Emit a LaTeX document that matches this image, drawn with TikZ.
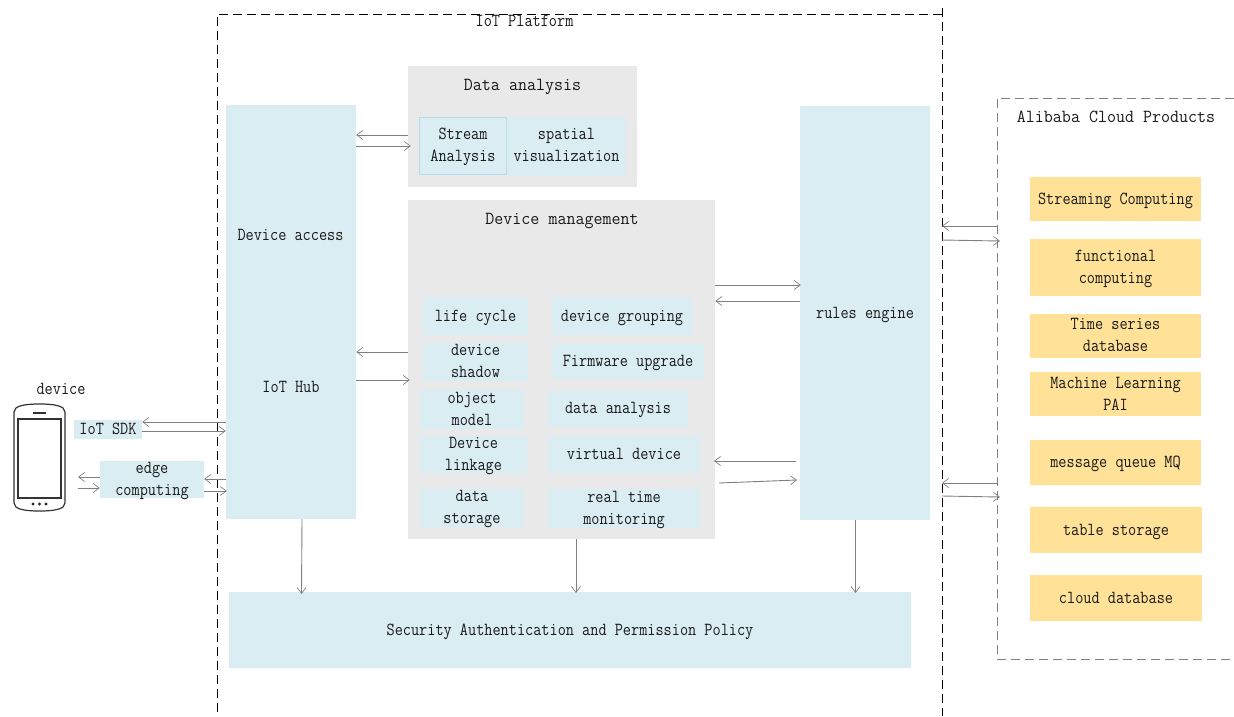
\documentclass[tikz,border=0pt]{standalone}
\usepackage{fontspec}
\setmonofont{Latin Modern Mono}[FakeStretch=0.86]
\newfontface\titlefont{Latin Modern Mono}[FakeStretch=0.95]
\usetikzlibrary{arrows.meta,calc}
\definecolor{lblue}{HTML}{DAEDF3}
\definecolor{lgray}{HTML}{E9E9E9}
\definecolor{lyellow}{HTML}{FFE197}
\definecolor{linegray}{HTML}{808080}
\definecolor{streamline}{HTML}{B4DCEB}
\tikzset{
  arr/.style={draw=linegray,line width=0.9pt,-{Straight Barb[length=6pt,width=9pt,line width=0.7pt]}},
  lbl/.style={font=\fontsize{18.4}{22}\selectfont\ttfamily,align=center,text=black!90,inner sep=0pt},
  ttl/.style={font=\fontsize{18.4}{22}\selectfont\titlefont,align=center,text=black!90,inner sep=0pt},
  plat/.style={draw=black,line width=0.9pt,dash pattern=on 9pt off 5pt},
  cloudline/.style={draw=black!50,line width=0.7pt,dash pattern=on 9pt off 5pt},
  phone/.style={draw=black!80,line width=1.2pt}
}
% name, x0, y0, x1, y1, fill, downward text offset, text
\newcommand{\bx}[8]{\node[inner sep=0pt,fill=#6,minimum width=#4pt-#2pt,minimum height=#5pt-#3pt] (#1) at ({(#2+#4)/2},{(#3+#5)/2}) {};
 \node[lbl] (#1-t) at ([yshift=-#7pt]#1.center) {#8};}
\begin{document}
\begin{tikzpicture}[x=1pt,y=-1pt]
\useasboundingbox (0,0) rectangle (1234,716);
% containers
\node[inner sep=0pt,fill=lblue,minimum width=130pt,minimum height=414pt] (hub) at (291,312) {};
\node[inner sep=0pt,fill=lgray,minimum width=229pt,minimum height=121pt] (da) at (522.5,126.5) {};
\node[inner sep=0pt,fill=lgray,minimum width=307pt,minimum height=339pt] (dm) at (561.5,369.5) {};
\bx{rules}{800}{106}{930}{520}{lblue}{2}{rules engine}
\bx{sec}{229}{592}{911}{668}{lblue}{2}{Security Authentication and Permission Policy}
% platform frame
\coordinate (pa) at (217,712);\coordinate (pb) at (217,14);\coordinate (pc) at (942,14);
\coordinate (pd) at (942,8);\coordinate (pe) at (942,716);
\draw[plat] (pa) -- (pb) -- (pc);
\draw[plat] (pd) -- (pe);
\node[lbl] (ptitle) at (524.5,21) {IoT Platform};
% cloud frame
\coordinate (ca) at (1234,98);\coordinate (cb) at (997,98);\coordinate (cc) at (997,659);\coordinate (cd) at (1234,659);
\draw[cloudline] (ca) -- (cb) -- (cc) -- (cd);
\node[ttl] (ctitle) at (1116,116.5) {Alibaba Cloud Products};
% hub labels
\node[lbl] (access) at (290.5,235) {Device access};
\node[lbl] (iothub) at (291,387) {IoT Hub};
% data analysis
\node[ttl] (datitle) at (522.5,87) {Data analysis};
\bx{spatial}{507}{117}{626}{176}{lblue}{-2}{spatial\\visualization}
\node[inner sep=0pt,fill=lblue,draw=streamline,line width=0.8pt,minimum width=87pt,minimum height=57pt] (stream) at (463,146) {};
\node[lbl] (stream-t) at (463,147) {Stream\\Analysis};
% device management
\node[ttl] (dmtitle) at (562,221) {Device management};
\bx{life}{423}{297}{528}{335}{lblue}{2}{life cycle}
\bx{shadow}{423}{343}{528}{381}{lblue}{-1}{device\\shadow}
\bx{object}{420}{390}{524}{429}{lblue}{-1}{object\\model}
\bx{linkage}{420}{436}{527}{473}{lblue}{1}{Device\\linkage}
\bx{storage}{420}{489}{524}{527}{lblue}{1}{data\\storage}
\bx{group}{552}{297}{692}{335}{lblue}{2}{device grouping}
\bx{firm}{552}{344}{704}{379}{lblue}{1}{Firmware upgrade}
\bx{dan}{548}{391}{688}{427}{lblue}{1}{data analysis}
\bx{virt}{548}{436}{700}{473}{lblue}{-1}{virtual device}
\bx{mon}{548}{489}{700}{528}{lblue}{1}{real time\\monitoring}
% cloud products
\bx{c1}{1030}{177}{1201}{221}{lyellow}{2}{Streaming Computing}
\bx{c2}{1030}{239}{1201}{296}{lyellow}{1}{functional\\computing}
\bx{c3}{1030}{314}{1201}{358}{lyellow}{-1}{Time series\\database}
\bx{c4}{1030}{372}{1201}{416}{lyellow}{-0.5}{Machine Learning\\PAI}
\bx{c5}{1030}{440}{1201}{485}{lyellow}{1}{message queue MQ}
\bx{c6}{1030}{507}{1202}{553}{lyellow}{2}{table storage}
\bx{c7}{1030}{575}{1202}{621}{lyellow}{0}{cloud database}
% device side
\node[lbl] (devlbl) at (61,389) {device};
\bx{sdk}{74}{420}{142}{439}{lblue}{-1}{IoT SDK}
\bx{edge}{100}{461}{204}{498}{lblue}{1}{edge\\computing}
% phone
\draw[phone] (14,412) .. controls (14,406) and (24,404) .. (39.5,404)
  .. controls (55,404) and (65,406) .. (65,412) -- (65,503)
  .. controls (65,509) and (55,511) .. (39.5,511)
  .. controls (24,511) and (14,509) .. (14,503) -- cycle;
\draw[phone] (18,419) rectangle (61,498);
\draw[phone,line width=1.4pt] (33,413) -- (46,413);
\foreach \x in {33,39.5,46}{\fill[black!85] (\x,504) circle (1.7);}
% connectors
\draw[arr] (da.west |- 0,135) -- (hub.east |- 0,135);
\draw[arr] (hub.east |- 0,146) -- ([xshift=3pt]da.west |- 0,146);
\draw[arr] (dm.west |- 0,352) -- (hub.east |- 0,352);
\draw[arr] (hub.east |- 0,380) -- ([xshift=2pt]dm.west |- 0,380);
\draw[arr] (dm.east |- 0,285) -- ([xshift=1pt]rules.west |- 0,285);
\draw[arr] (rules.west |- 0,301) -- (dm.east |- 0,301);
\coordinate (r1) at (796,461);\coordinate (m1) at (714,461);
\coordinate (r2) at (797,480);\coordinate (m2) at (719,483);
\draw[arr] (r1) -- (m1);
\draw[arr] (m2) -- (r2);
\draw[arr] (hub.west |- 0,422) -- (sdk.east |- 0,422);
\draw[arr] (sdk.east |- 0,431) -- (hub.west |- 0,431);
\draw[arr] (hub.west |- 0,479) -- (edge.east |- 0,479);
\draw[arr] (edge.east |- 0,491) -- ([xshift=1pt]hub.west |- 0,491);
\coordinate (e1) at (78,477);\coordinate (e2) at (78,488);
\draw[arr] (edge.west |- e1) -- (e1);
\draw[arr] (e2) -- (edge.west |- e2);
\coordinate (s1) at (302,519);\coordinate (s2) at (301.5,594);
\draw[arr] (s1) -- (s2);
\draw[arr] (dm.south -| 576,0) -- (576,593);
\draw[arr] (rules.south -| 855.5,0) -- (855.5,593);
\draw[arr] (cb |- 0,226) -- (pd |- 0,226);
\coordinate (f1) at (942,240);\coordinate (f2) at (1000,241);
\draw[arr] (f1) -- (f2);
\draw[arr] (cb |- 0,483) -- (pd |- 0,483);
\coordinate (g1) at (942,496);\coordinate (g2) at (1000,497);
\draw[arr] (g1) -- (g2);
\end{tikzpicture}
\end{document}
